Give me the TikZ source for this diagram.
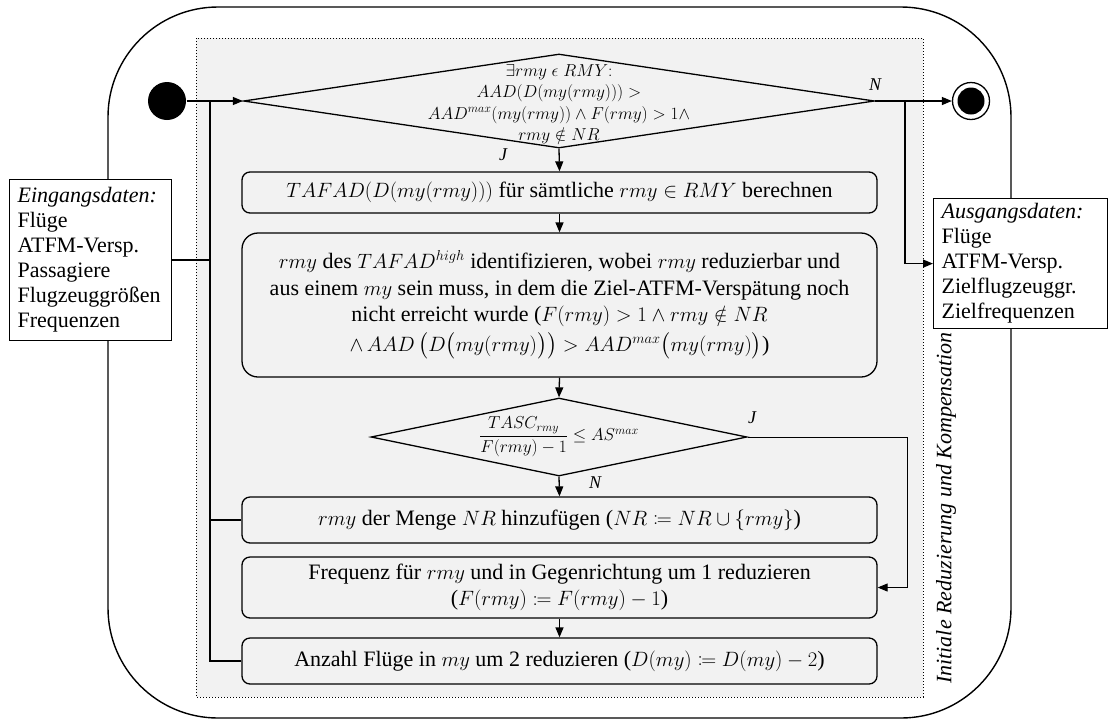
\documentclass[tikz,border=0pt]{standalone}
\usepackage{fontspec}
\usepackage{amsmath,amssymb,mathtools}
\setmainfont{Liberation Serif}
\usetikzlibrary{arrows.meta,shapes.geometric}

\begin{document}
\begin{tikzpicture}[x=1pt,y=-1pt,
  line width=1.3pt,
  flow/.style={-{Triangle[length=10pt,width=8pt]}},
  proc/.style={draw, fill=gray!10, rounded corners=8pt, align=center,
    minimum width=635pt, inner sep=0pt,
    font=\fontsize{22}{26.5}\selectfont},
  decis/.style={draw, diamond, inner sep=0pt},
  iobox/.style={draw, fill=white, line width=1.2pt, anchor=north west,
    align=left, inner xsep=8pt, inner ysep=4pt,
    font=\fontsize{22}{25}\selectfont},
  yn/.style={font=\fontsize{18}{20}\selectfont\itshape}
]
\useasboundingbox (0,0) rectangle (1110,721);

% outer frame and shaded activity area
\draw[line width=1.4pt, rounded corners=110pt] (108,7) rectangle (1011,718);
\draw[dotted, line width=1pt, fill=gray!10] (196,38) rectangle (923,697);

% start and end states
\node[circle, fill, minimum size=38pt, inner sep=0pt] (s) at (167,101) {};
\node[circle, draw, fill=white, line width=1.3pt, minimum size=37pt, inner sep=0pt] (e) at (971,101) {};
\node[circle, fill, minimum size=27pt, inner sep=0pt] (ei) at (e.center) {};

% first decision
\node[decis, minimum width=631pt, minimum height=94pt] (d1) at (559,101) {};
\node[align=center, font=\fontsize{18.5}{21.5}\selectfont, inner sep=0pt] (d1t) at (559,104)
  {$\exists rmy \mathrel{\epsilon} RMY{:}$\\
   $AAD(D(my(rmy)))>$\\
   $AAD^{max}(my(rmy))\wedge F(rmy)>1\wedge$\\
   $rmy\notin NR$};

% process steps
\node[proc, minimum height=41pt] (b1) at (559.5,192.5)
  {$TAFAD(D(my(rmy)))$ für sämtliche $rmy\in RMY$ berechnen};
\node[proc, rounded corners=16pt, minimum height=144pt] (b2) at (559.5,305)
  {$rmy$ des $TAFAD^{high}$ identifizieren, wobei $rmy$ reduzierbar und\\
   aus einem $my$ sein muss, in dem die Ziel-ATFM-Verspätung noch\\
   nicht erreicht wurde ($F(rmy)>1\wedge rmy\notin NR$\\[3pt]
   $\wedge\,AAD\left(D\big(my(rmy)\big)\right)>AAD^{max}\big(my(rmy)\big)$)};

% second decision
\node[decis, minimum width=376pt, minimum height=78pt] (d2) at (559,437) {};
\node[font=\fontsize{18}{20}\selectfont, inner sep=0pt] (d2t) at (559,437)
  {$\dfrac{TASC_{rmy}}{F(rmy)-1}\le AS^{max}$};

\node[proc, minimum height=46pt] (b3) at (559.5,520)
  {$rmy$ der Menge $NR$ hinzufügen ($NR\coloneqq NR\cup\{rmy\}$)};
\node[proc, minimum height=61pt] (b4) at (559.5,587.5)
  {Frequenz für $rmy$ und in Gegenrichtung um 1 reduzieren\\
   ($F(rmy)\coloneqq F(rmy)-1$)};
\node[proc, minimum height=46pt] (b5) at (559.5,661)
  {Anzahl Flüge in $my$ um 2 reduzieren ($D(my)\coloneqq D(my)-2$)};

% input and output data
\node[iobox, minimum width=162pt, minimum height=161pt, text width=146pt] (in) at (9,179)
  {\textit{Eingangsdaten:}\\Flüge\\ATFM-Versp.\\Passagiere\\Flugzeuggrößen\\Frequenzen};
\node[iobox, minimum width=174pt, minimum height=130pt, text width=158pt] (out) at (933,198)
  {\textit{Ausgangsdaten:}\\Flüge\\ATFM-Versp.\\Zielflugzeuggr.\\Zielfrequenzen};

% caption of the activity
\node[rotate=90, font=\fontsize{22}{26}\selectfont\itshape] (cap) at (946,508)
  {Initiale Reduzierung und Kompensation};

% routing points
\coordinate (lp) at (210,101);
\coordinate (rj) at (907,437);
\coordinate (rn) at (905,101);

% main flow
\draw[flow] (s) -- (d1.west);
\draw[flow] (d1.south) -- (b1.north);
\draw[flow] (b1.south) -- (b2.north);
\draw[flow] (b2.south) -- (d2.north);
\draw[flow] (d2.south) -- (b3.north);
\draw[flow] (b4.south) -- (b5.north);
\draw[flow] (d1.east) -- (e);
\draw[flow] (rn) |- (out.west);
\draw[flow, line width=1pt] (d2.east) -- (rj) |- (b4.east);

% loop back to the first decision
\draw (b5.west) -| (lp);
\draw (b3.west) -- (b3.west -| lp);
\draw (in.east) -- (in.east -| lp);

% branch labels
\node[yn] (lj1) at (503,155) {J};
\node[yn] (ln1) at (875,85) {N};
\node[yn] (lj2) at (752,418) {J};
\node[yn] (ln2) at (595,483) {N};
\end{tikzpicture}
\end{document}
